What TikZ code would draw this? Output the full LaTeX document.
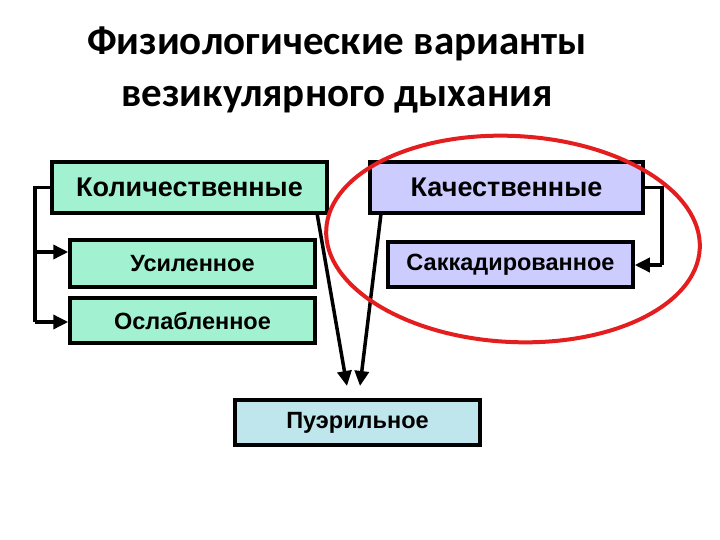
\documentclass[tikz,border=0pt]{standalone}
\usepackage{fontspec}
\setmainfont{Liberation Sans}
\newfontfamily\titlefont{Carlito}
\usetikzlibrary{arrows.meta}
\definecolor{aqua}{HTML}{A2F2D2}
\definecolor{lav}{HTML}{CCCCFF}
\definecolor{puer}{HTML}{BEE6EC}
\definecolor{ringred}{HTML}{E41E1E}
\tikzset{
  box/.style={draw=black, line width=3.5pt, inner sep=0pt, font=\bfseries\fontsize{23.5}{27}\selectfont},
  bigbox/.style={box, font=\bfseries\fontsize{27}{30}\selectfont},
  conn/.style={line width=3.5pt, draw=black, -{Triangle[length=15pt,width=14pt]}},
  plain/.style={line width=3.5pt, draw=black},
}
\begin{document}
\begin{tikzpicture}[x=1pt,y=-1pt]
\useasboundingbox (0,0) rectangle (720,540);
\node[font=\titlefont\bfseries\fontsize{41}{52}\selectfont, align=center] (title) at (337,70) {Физиологические варианты\\везикулярного дыхания};

\node[bigbox, fill=aqua, minimum width=275pt, minimum height=51pt] (kol) at (189.5,187.5) {Количественные};
\node[box, fill=aqua, minimum width=245pt, minimum height=47pt] (usil) at (192.5,263.5) {Усиленное};
\node[box, fill=aqua, minimum width=245pt, minimum height=45pt] (osl) at (192.5,320.5) {Ослабленное};
\node[bigbox, fill=lav, minimum width=273pt, minimum height=51pt] (kach) at (506.5,187.5) {Качественные};
\node[box, fill=lav, minimum width=245pt, minimum height=45pt] (sakk) at (510.5,264.5) {Саккадированное};
\node[box, fill=puer, minimum width=245pt, minimum height=45pt] (puer) at (357.5,422.5) {Пуэрильное};

% left bracket
\coordinate (lt) at (35,187.5);
\coordinate (lm) at (35,252);
\coordinate (lb) at (35,322);
\draw[plain] (kol.west) -- (lt) -- (lb);
\draw[conn] (lm) -- (usil.west |- lm);
\draw[conn] (lb) -- (osl.west |- lb);

% right bracket
\coordinate (rt) at (662,187.5);
\coordinate (rb) at (662,265);
\draw[plain] (kach.east) -- (rt) -- (rb);
\draw[conn] (rb) -- (sakk.east |- rb);

% arrows to puer
\coordinate (p1) at (347,386);
\coordinate (p2) at (360,386);
\draw[conn] ([xshift=-12pt,yshift=3pt]kol.south east) -- (p1);
\draw[conn] ([xshift=13pt,yshift=3pt]kach.south west) -- (p2);

% red ring
\draw[ringred, line width=4pt, rotate around={-3:(513,239)}] (513,239) ellipse [x radius=187, y radius=103];
\end{tikzpicture}
\end{document}
